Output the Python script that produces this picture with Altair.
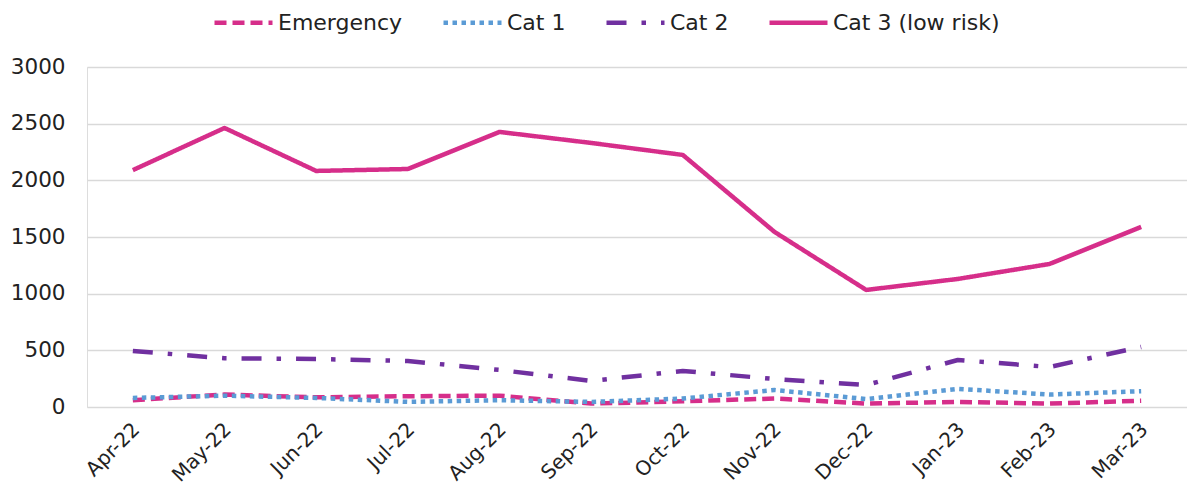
import altair as alt
import pandas as pd

months = ["Apr-22", "May-22", "Jun-22", "Jul-22", "Aug-22", "Sep-22",
          "Oct-22", "Nov-22", "Dec-22", "Jan-23", "Feb-23", "Mar-23"]
series_names = ["Emergency", "Cat 1", "Cat 2", "Cat 3 (low risk)"]
emergency = [60, 110, 85, 95, 100, 30, 50, 75, 30, 45, 30, 55]
cat1 = [80, 100, 80, 45, 60, 45, 75, 150, 70, 160, 110, 140]
cat2 = [494, 430, 424, 406, 327, 230, 318, 247, 194, 415, 353, 530]
cat3 = [2090, 2462, 2083, 2100, 2427, 2330, 2224, 1545, 1033, 1130, 1262, 1589]

colors = ["#D62E8A", "#5B9BD5", "#7030A0", "#D62E8A"]
dashes = [[12, 6], [4.5, 4.5], [20, 15, 4.5, 15], [1, 0]]

rows = []
for name, vals in zip(series_names, [emergency, cat1, cat2, cat3]):
    for i, (m, v) in enumerate(zip(months, vals)):
        rows.append({"Month": m, "Series": name, "Value": v, "order": i})
df = pd.DataFrame(rows)

legend_kw = dict(title=None, orient="none", legendX=125, legendY=-76,
                 direction="horizontal", symbolType="stroke",
                 symbolSize=3364, symbolStrokeWidth=4.5,
                 labelFontSize=22, labelFont="DejaVu Sans", labelLimit=400,
                 labelColor="#222222", columnPadding=31, labelOffset=3)

chart = alt.Chart(df).mark_line(strokeWidth=4.5, strokeCap="butt", strokeJoin="round").encode(
    x=alt.X("Month:N", sort=months, title=None,
            scale=alt.Scale(paddingOuter=0.5, paddingInner=0),
            axis=alt.Axis(labelAngle=-45, labelFontSize=20, labelFont="DejaVu Sans",
                          labelColor="#222222", ticks=False, domain=False,
                          labelAlign="right", labelBaseline="top",
                          labelPadding=12, labelOffset=-4)),
    y=alt.Y("Value:Q", title=None,
            scale=alt.Scale(domain=[0, 3000], nice=False),
            axis=alt.Axis(values=[0, 500, 1000, 1500, 2000, 2500, 3000], format="d",
                          labelFontSize=21.5, labelFont="DejaVu Sans", labelColor="#222222",
                          ticks=False, domain=False, gridColor="#d9d9d9", gridWidth=1.5,
                          labelPadding=22)),
    color=alt.Color("Series:N", scale=alt.Scale(domain=series_names, range=colors),
                    legend=alt.Legend(**legend_kw)),
    strokeDash=alt.StrokeDash("Series:N", scale=alt.Scale(domain=series_names, range=dashes),
                              legend=alt.Legend(**legend_kw)),
    detail="Series:N",
    order="order:Q",
).properties(
    width=1100, height=340,
    autosize=alt.AutoSizeParams(type="none"),
    padding={"left": 79, "top": 59, "right": 0, "bottom": 81},
).configure_view(stroke=None).configure(background="white")

chart.save("out.html", embed_options={"renderer": "svg", "actions": False})
